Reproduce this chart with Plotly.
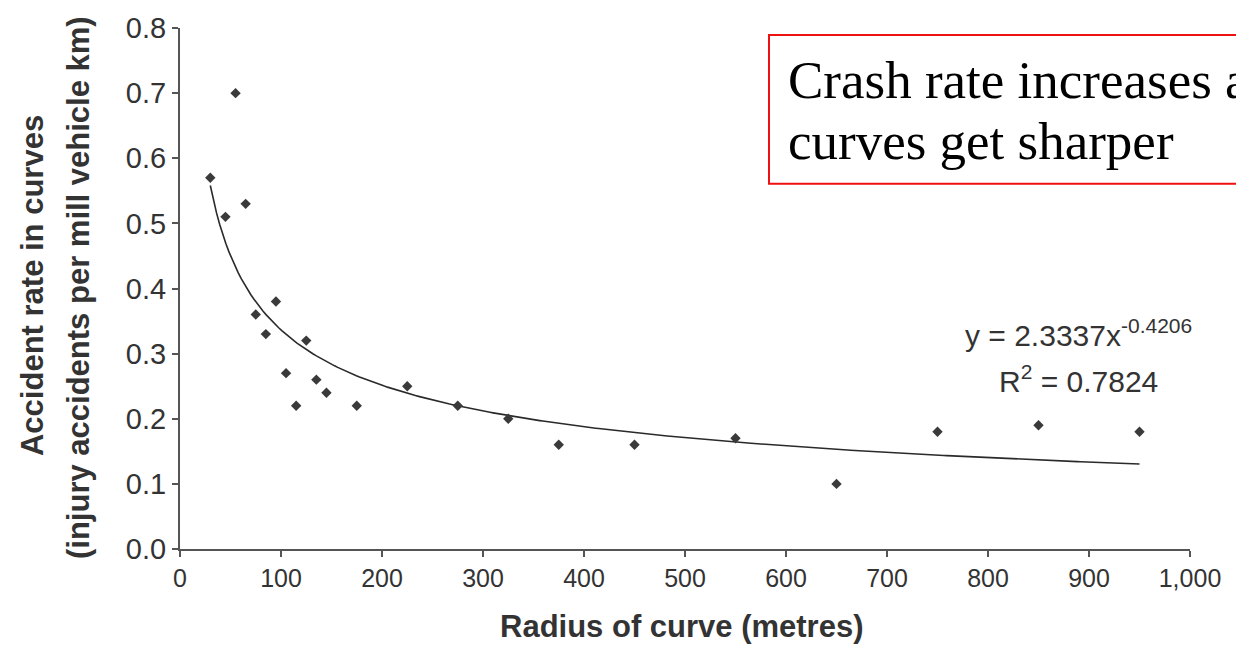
import numpy as np
import plotly.graph_objects as go

# ---- data ----
radius_m = [30, 45, 55, 65, 75, 85, 95, 105, 115, 125, 135, 145, 175,
            225, 275, 325, 375, 450, 550, 650, 750, 850, 950]
accident_rate = [0.57, 0.51, 0.70, 0.53, 0.36, 0.33, 0.38, 0.27, 0.22, 0.32,
                 0.26, 0.24, 0.22, 0.25, 0.22, 0.20, 0.16, 0.16, 0.17, 0.10,
                 0.18, 0.19, 0.18]

# power trendline shown on the chart: y = 2.3337 x^-0.4206
fit_coef = 2.3337
fit_exp = -0.4206
fit_r2 = 0.7824

x_ticks = [0, 100, 200, 300, 400, 500, 600, 700, 800, 900, 1000]
y_ticks = [0.0, 0.1, 0.2, 0.3, 0.4, 0.5, 0.6, 0.7, 0.8]

# ---- layout geometry (pixels) ----
W, H = 1236, 647
L, R, T, B = 180, 1190, 24, 549


def px(xp):
    return (xp - L) / (R - L)


def py(yp):
    return (B - yp) / (B - T)


SANS = "Liberation Sans, Arial, sans-serif"
SERIF = "Liberation Serif, Times New Roman, serif"
GREY = "#333333"

trend_x = np.linspace(min(radius_m), max(radius_m), 300)
trend_y = fit_coef * trend_x ** fit_exp

fig = go.Figure()
fig.add_trace(go.Scatter(x=trend_x, y=trend_y, mode="lines",
                         line=dict(color="#2a2a2a", width=1.6),
                         hoverinfo="skip", showlegend=False))
fig.add_trace(go.Scatter(x=radius_m, y=accident_rate, mode="markers",
                         marker=dict(symbol="diamond", size=8, color="#3a3a3a"),
                         showlegend=False))

fig.update_layout(
    width=W, height=H,
    margin=dict(l=L, r=W - R, t=T, b=H - B),
    paper_bgcolor="white", plot_bgcolor="white",
    xaxis=dict(range=[0, 1000], tickvals=x_ticks, tickformat=",d",
               showline=True, linecolor="#555555", linewidth=2,
               ticks="outside", ticklen=6, tickcolor="#555555", tickwidth=2,
               showgrid=False, zeroline=False,
               tickfont=dict(family=SANS, size=25, color=GREY)),
    yaxis=dict(range=[0, 0.8], tickvals=y_ticks, tickformat=".1f",
               showline=True, linecolor="#555555", linewidth=2,
               ticks="outside", ticklen=6, tickcolor="#555555", tickwidth=2,
               showgrid=False, zeroline=False,
               tickfont=dict(family=SANS, size=29, color=GREY)),
)

annotations = [
    # x-axis title
    dict(text="<b>Radius of curve (metres)</b>", x=px(682), y=py(627),
         xref="paper", yref="paper", showarrow=False,
         xanchor="center", yanchor="middle",
         font=dict(family=SANS, size=31, color=GREY)),
    # y-axis title (two lines)
    dict(text="<b>Accident rate in curves</b>", x=px(32), y=py(284),
         xref="paper", yref="paper", showarrow=False, textangle=-90,
         xanchor="center", yanchor="middle",
         font=dict(family=SANS, size=31, color=GREY)),
    dict(text="<b>(injury accidents per mill vehicle km)</b>", x=px(78), y=py(286),
         xref="paper", yref="paper", showarrow=False, textangle=-90,
         xanchor="center", yanchor="middle",
         font=dict(family=SANS, size=31, color=GREY)),
    # trendline equation
    dict(text=f"y = {fit_coef:.4f}x<sup>{fit_exp:.4f}</sup>", x=px(1078), y=py(331),
         xref="paper", yref="paper", showarrow=False,
         xanchor="center", yanchor="middle",
         font=dict(family=SANS, size=30, color=GREY)),
    dict(text=f"R<sup>2</sup> = {fit_r2:.4f}", x=px(1078), y=py(378),
         xref="paper", yref="paper", showarrow=False,
         xanchor="center", yanchor="middle",
         font=dict(family=SANS, size=30, color=GREY)),
    # boxed note
    dict(text="Crash rate increases as", x=px(786), y=py(76),
         xref="paper", yref="paper", showarrow=False,
         xanchor="left", yanchor="middle",
         font=dict(family=SERIF, size=53, color="black")),
    dict(text="curves get sharper", x=px(786), y=py(138),
         xref="paper", yref="paper", showarrow=False,
         xanchor="left", yanchor="middle",
         font=dict(family=SERIF, size=53, color="black")),
]
fig.update_layout(annotations=annotations)

fig.add_shape(type="rect", xref="paper", yref="paper",
              x0=px(769), x1=px(1320), y0=py(181), y1=py(31),
              line=dict(color="#ee1111", width=2), fillcolor="white",
              layer="below")

fig.write_html("out.html")
